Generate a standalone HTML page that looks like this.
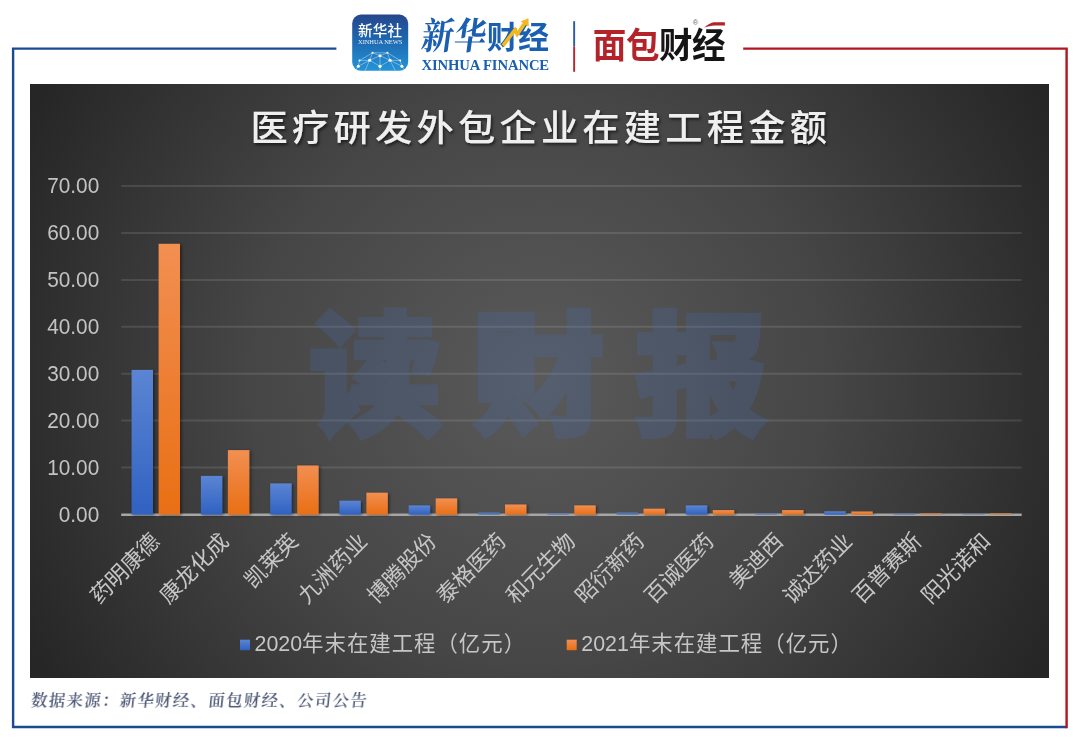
<!DOCTYPE html>
<html lang="zh-CN"><head><meta charset="utf-8"><title>医疗研发外包企业在建工程金额</title>
<style>
html,body{margin:0;padding:0;background:#fff;}
body{width:1080px;height:741px;position:relative;overflow:hidden;font-family:"Liberation Sans","Noto Sans CJK SC",sans-serif;}
.abs{position:absolute;}
#chartbg{left:30.1px;top:83.5px;width:1018.5px;height:594px;background:radial-gradient(circle 575px at 50% 50%, #5a5a5a 0%, #464646 50%, #262626 100%);}
#src{left:30.2px;top:690.3px;color:#4d5876;font:600 16.3px/22px "Liberation Serif","Noto Serif CJK SC",serif;white-space:nowrap;letter-spacing:1.45px;transform:skewX(-6deg);transform-origin:0 100%;}
svg text{font-family:"Liberation Sans","Noto Sans CJK SC",sans-serif;}
.yl{font-size:20.8px;fill:#c3c3c3;}
.cl{font-size:21.7px;fill:#c6c6c6;font-weight:400;}
.lg{font-size:21.4px;fill:#c6c6c6;font-weight:400;letter-spacing:1px;}
.ttl{font-size:37.3px;fill:#efefef;letter-spacing:4.18px;font-weight:500;}
.wm{font-size:133px;font-weight:900;fill:#4672c0;stroke:#4672c0;stroke-width:4.5px;stroke-linejoin:miter;letter-spacing:30px;}
</style></head><body>
<div class="abs" id="chartbg"></div>

<svg class="abs" style="left:0;top:0;will-change:transform" width="1080" height="82" viewBox="0 0 1080 82">
<defs>
<linearGradient id="gi" x1="0" y1="0" x2="0" y2="1"><stop offset="0" stop-color="#25468c"/><stop offset="0.45" stop-color="#1e68ae"/><stop offset="1" stop-color="#2494d8"/></linearGradient>
</defs>
<rect x="352.2" y="14.6" width="56" height="56.2" rx="8.8" fill="url(#gi)"/>
<text x="380.1" y="36.2" text-anchor="middle" fill="#fff" style="font-size:14.6px;font-weight:500;letter-spacing:0.1px">新华社</text>
<text x="380.2" y="43.7" text-anchor="middle" fill="#e8f2fb" style="font-family:'Liberation Serif',serif;font-size:6.5px;letter-spacing:-0.1px">XINHUA NEWS</text>
<g transform="translate(352.2,14.6)">
 <g stroke="#d4e9f8" stroke-width="0.55" fill="none" opacity="0.85">
  <path d="M20.3 38.2 L35.2 38.2 M20.3 38.2 L7.3 45.9 L6.1 51.7 M35.2 38.2 L48 45.9 L49.7 51.7 M20.3 38.2 L27.8 41.1 L35.2 38.2 M27.8 41.1 L17.4 45.7 L7.3 45.9 M27.8 41.1 L37.9 45.7 L48 45.9 M17.4 45.7 L6.1 51.7 M17.4 45.7 L27.8 51.7 L37.9 45.7 L49.7 51.7 M20.3 38.2 L17.4 45.7 M35.2 38.2 L37.9 45.7 M27.8 41.1 L27.8 51.7 M17.4 45.7 L13 56 M37.9 45.7 L43 56 M6.1 51.7 L3 56 M49.7 51.7 L53 56 M27.8 51.7 L27.8 56"/>
 </g>
 <g fill="#fff">
  <circle cx="20.3" cy="38.2" r="1.05"/><circle cx="35.2" cy="38.2" r="1.05"/><circle cx="27.8" cy="41.1" r="1.55"/>
  <circle cx="7.3" cy="45.9" r="1"/><circle cx="17.4" cy="45.7" r="1.55"/><circle cx="37.9" cy="45.7" r="1.55"/><circle cx="48" cy="45.9" r="1"/>
  <circle cx="6.1" cy="51.7" r="1.5"/><circle cx="27.8" cy="51.7" r="1.6"/><circle cx="49.7" cy="51.7" r="1.5"/>
 </g>
</g>
<text transform="translate(420.3,48.6) scale(1,1.16) skewX(-9)" fill="#1b5fb0" style="font-family:'Liberation Serif','Noto Serif CJK SC',serif;font-size:32px;font-weight:700;letter-spacing:0.4px">新华</text>
<text transform="translate(486.8,48.3) scale(1.0,1.0)" fill="#1b5fb0" style="font-size:31px;font-weight:700;letter-spacing:0.3px">财经</text>
<path d="M503 45.6 L514.9 30 L517.2 34.2 L525.2 22.6" stroke="#f4b71f" stroke-width="3.7" fill="none"/><path d="M520.6 21.6 L528.4 18.3 L528.8 26.4 Z" fill="#f4b71f"/>
<text x="421.4" y="69.6" fill="#1b5fb0" style="font-family:'Liberation Serif',serif;font-size:14.7px;font-weight:700;letter-spacing:-0.12px">XINHUA FINANCE</text>
<rect x="573.2" y="21.2" width="1.9" height="25.3" fill="#2b5ba7"/><rect x="573.2" y="46.5" width="1.9" height="25.3" fill="#b9242c"/>
<text transform="translate(592.8,58.2) scale(1.0,1.04)" style="font-size:33.5px;font-weight:700;letter-spacing:-0.4px"><tspan fill="#b4232a">面包</tspan><tspan fill="#151515">财经</tspan></text>
<path d="M704.3 27.4 C707 25 710.5 22.9 713.5 22.3 L724.9 22.3 L724.9 25.6 L714.5 25.6 C711 25.8 708 26.5 704.3 27.4 Z" fill="#b4232a"/>
<text x="695.5" y="25.4" text-anchor="middle" fill="#666" style="font-size:7.6px">®</text>
</svg>

<svg class="abs" style="left:0;top:0;will-change:transform" width="1080" height="741" viewBox="0 0 1080 741">
<defs>
<linearGradient id="gb" x1="0" y1="0" x2="0" y2="1"><stop offset="0" stop-color="#5b85d3"/><stop offset="1" stop-color="#3062c2"/></linearGradient>
<linearGradient id="go" x1="0" y1="0" x2="0" y2="1"><stop offset="0" stop-color="#f28f52"/><stop offset="1" stop-color="#e96f14"/></linearGradient>
<filter id="sh" x="-30%" y="-5%" width="180%" height="115%"><feDropShadow dx="1.5" dy="1" stdDeviation="1.8" flood-color="#000" flood-opacity="0.45"/></filter>
<filter id="tsh" x="-5%" y="-20%" width="110%" height="150%"><feDropShadow dx="1.5" dy="2" stdDeviation="1.6" flood-color="#000" flood-opacity="0.6"/></filter>
</defs>
<line x1="121.2" x2="1021.7" y1="467.4" y2="467.4" stroke="#fff" stroke-opacity="0.11" stroke-width="2"/>
<line x1="121.2" x2="1021.7" y1="420.5" y2="420.5" stroke="#fff" stroke-opacity="0.11" stroke-width="2"/>
<line x1="121.2" x2="1021.7" y1="373.7" y2="373.7" stroke="#fff" stroke-opacity="0.11" stroke-width="2"/>
<line x1="121.2" x2="1021.7" y1="326.8" y2="326.8" stroke="#fff" stroke-opacity="0.11" stroke-width="2"/>
<line x1="121.2" x2="1021.7" y1="279.9" y2="279.9" stroke="#fff" stroke-opacity="0.11" stroke-width="2"/>
<line x1="121.2" x2="1021.7" y1="233.0" y2="233.0" stroke="#fff" stroke-opacity="0.11" stroke-width="2"/>
<line x1="121.2" x2="1021.7" y1="186.1" y2="186.1" stroke="#fff" stroke-opacity="0.11" stroke-width="2"/>
<g opacity=".21"><text class="wm" x="309" y="423.5">读财报</text></g>
<text text-anchor="end" class="yl" transform="translate(99.2,521.6) scale(1,1.045)">0.00</text>
<text text-anchor="end" class="yl" transform="translate(99.2,474.7) scale(1,1.045)">10.00</text>
<text text-anchor="end" class="yl" transform="translate(99.2,427.8) scale(1,1.045)">20.00</text>
<text text-anchor="end" class="yl" transform="translate(99.2,381.0) scale(1,1.045)">30.00</text>
<text text-anchor="end" class="yl" transform="translate(99.2,334.1) scale(1,1.045)">40.00</text>
<text text-anchor="end" class="yl" transform="translate(99.2,287.2) scale(1,1.045)">50.00</text>
<text text-anchor="end" class="yl" transform="translate(99.2,240.3) scale(1,1.045)">60.00</text>
<text text-anchor="end" class="yl" transform="translate(99.2,193.4) scale(1,1.045)">70.00</text>
<line x1="121.2" x2="1021.7" y1="514.8" y2="514.8" stroke="#a6a6a6" stroke-width="2.5"/>
<rect x="131.6" y="369.9" width="21.4" height="144.7" fill="url(#gb)" filter="url(#sh)"/>
<rect x="158.6" y="243.8" width="21.4" height="270.8" fill="url(#go)" filter="url(#sh)"/>
<rect x="200.9" y="475.9" width="21.4" height="38.7" fill="url(#gb)" filter="url(#sh)"/>
<rect x="227.9" y="450.1" width="21.4" height="64.5" fill="url(#go)" filter="url(#sh)"/>
<rect x="270.2" y="483.4" width="21.4" height="31.2" fill="url(#gb)" filter="url(#sh)"/>
<rect x="297.2" y="465.5" width="21.4" height="49.1" fill="url(#go)" filter="url(#sh)"/>
<rect x="339.4" y="500.7" width="21.4" height="13.9" fill="url(#gb)" filter="url(#sh)"/>
<rect x="366.4" y="492.7" width="21.4" height="21.9" fill="url(#go)" filter="url(#sh)"/>
<rect x="408.7" y="505.4" width="21.4" height="9.2" fill="url(#gb)" filter="url(#sh)"/>
<rect x="435.7" y="498.4" width="21.4" height="16.2" fill="url(#go)" filter="url(#sh)"/>
<rect x="478.0" y="512.3" width="21.4" height="2.3" fill="url(#gb)" fill-opacity=".7" filter="url(#sh)"/>
<rect x="505.0" y="504.5" width="21.4" height="10.1" fill="url(#go)" filter="url(#sh)"/>
<rect x="547.3" y="513.4" width="21.4" height="1.2" fill="url(#gb)" fill-opacity=".7" filter="url(#sh)"/>
<rect x="574.3" y="505.4" width="21.4" height="9.2" fill="url(#go)" filter="url(#sh)"/>
<rect x="616.5" y="512.3" width="21.4" height="2.3" fill="url(#gb)" fill-opacity=".7" filter="url(#sh)"/>
<rect x="643.5" y="508.7" width="21.4" height="5.9" fill="url(#go)" filter="url(#sh)"/>
<rect x="685.8" y="505.4" width="21.4" height="9.2" fill="url(#gb)" filter="url(#sh)"/>
<rect x="712.8" y="510.1" width="21.4" height="4.5" fill="url(#go)" filter="url(#sh)"/>
<rect x="755.1" y="513.4" width="21.4" height="1.2" fill="url(#gb)" fill-opacity=".7" filter="url(#sh)"/>
<rect x="782.1" y="510.1" width="21.4" height="4.5" fill="url(#go)" filter="url(#sh)"/>
<rect x="824.3" y="511.3" width="21.4" height="3.3" fill="url(#gb)" filter="url(#sh)"/>
<rect x="851.3" y="511.5" width="21.4" height="3.1" fill="url(#go)" filter="url(#sh)"/>
<rect x="893.6" y="513.6" width="21.4" height="1.0" fill="url(#gb)" fill-opacity=".7" filter="url(#sh)"/>
<rect x="920.6" y="513.3" width="21.4" height="1.3" fill="url(#go)" fill-opacity=".7" filter="url(#sh)"/>
<rect x="962.9" y="514.1" width="21.4" height="0.5" fill="url(#gb)" fill-opacity=".7" filter="url(#sh)"/>
<rect x="989.9" y="513.3" width="21.4" height="1.3" fill="url(#go)" fill-opacity=".7" filter="url(#sh)"/>
<text class="cl" text-anchor="end" transform="translate(160.8,542.5) scale(1,1.02) rotate(-45)">药明康德</text>
<text class="cl" text-anchor="end" transform="translate(230.1,542.5) scale(1,1.02) rotate(-45)">康龙化成</text>
<text class="cl" text-anchor="end" transform="translate(299.4,542.5) scale(1,1.02) rotate(-45)">凯莱英</text>
<text class="cl" text-anchor="end" transform="translate(368.6,542.5) scale(1,1.02) rotate(-45)">九洲药业</text>
<text class="cl" text-anchor="end" transform="translate(437.9,542.5) scale(1,1.02) rotate(-45)">博腾股份</text>
<text class="cl" text-anchor="end" transform="translate(507.2,542.5) scale(1,1.02) rotate(-45)">泰格医药</text>
<text class="cl" text-anchor="end" transform="translate(576.5,542.5) scale(1,1.02) rotate(-45)">和元生物</text>
<text class="cl" text-anchor="end" transform="translate(645.7,542.5) scale(1,1.02) rotate(-45)">昭衍新药</text>
<text class="cl" text-anchor="end" transform="translate(715.0,542.5) scale(1,1.02) rotate(-45)">百诚医药</text>
<text class="cl" text-anchor="end" transform="translate(784.3,542.5) scale(1,1.02) rotate(-45)">美迪西</text>
<text class="cl" text-anchor="end" transform="translate(853.5,542.5) scale(1,1.02) rotate(-45)">诚达药业</text>
<text class="cl" text-anchor="end" transform="translate(922.8,542.5) scale(1,1.02) rotate(-45)">百普赛斯</text>
<text class="cl" text-anchor="end" transform="translate(992.1,542.5) scale(1,1.02) rotate(-45)">阳光诺和</text>
<g fill="none" stroke-width="2.4">
<path d="M336.4 48.65 L13.1 48.65 L13.1 727 L1066.6 727" stroke="#1b4a90" stroke-linejoin="miter"/>
<path d="M743.2 48.65 L1066.6 48.65 L1066.6 728.2" stroke="#b3161e" stroke-linejoin="miter"/>
</g>
<text class="ttl" transform="translate(540.9,140.6) scale(1,0.97)" text-anchor="middle" filter="url(#tsh)">医疗研发外包企业在建工程金额</text>
<rect x="240" y="639.7" width="10" height="10.5" fill="url(#gb)"/>
<text class="lg" transform="translate(254.5,651) scale(1,1.02)"><tspan letter-spacing="0">2020</tspan>年末在建工程（亿元）</text>
<rect x="566.7" y="639.7" width="10" height="10.5" fill="url(#go)"/>
<text class="lg" transform="translate(581.3,651) scale(1,1.02)"><tspan letter-spacing="0">2021</tspan>年末在建工程（亿元）</text>
</svg>
<div class="abs" id="src">数据来源：新华财经、面包财经、公司公告</div>
</body></html>
